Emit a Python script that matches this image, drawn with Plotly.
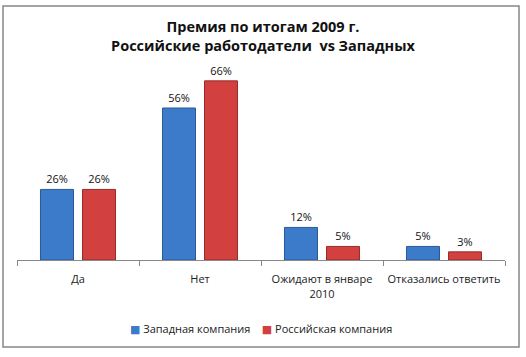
import plotly.graph_objects as go

categories = ["Да", "Нет", "Ожидают в январе<br>2010", "Отказались ответить"]
western = [26, 56, 12, 5]
russian = [26, 66, 5, 3]
series_names = ["Западная компания", "Российская компания"]
series_colors = ["#3C7BC9", "#D2413F"]
edge_colors = ["#2A5A96", "#962C2A"]

W, H = 526, 357
L, R, T, B = 17, 21, 70, 97
pw = W - L - R
ph = H - T - B

def px_x(p):
    return (p - L) / pw

def px_y(p):
    return (H - B - p) / ph

font_family = "Open Sans, Lato, DejaVu Sans, sans-serif"

fig = go.Figure()
for name, vals, col, edge in zip(series_names, [western, russian], series_colors, edge_colors):
    fig.add_trace(go.Bar(
        x=categories, y=vals, name=name,
        marker=dict(color=col, line=dict(color=edge, width=1)),
        text=[f"{v}%" for v in vals], textposition="outside",
        textfont=dict(size=11, color="#111111"), cliponaxis=False,
    ))

legend_text = "    ".join(
    f"<span style='color:{c}'>■</span> {n}" for n, c in zip(series_names, series_colors)
)

fig.update_layout(
    width=W, height=H,
    margin=dict(l=L, r=R, t=T, b=B, autoexpand=False),
    paper_bgcolor="white", plot_bgcolor="white",
    font=dict(family=font_family, size=11, color="#222222"),
    barmode="group", bargap=0.311, bargroupgap=0.214,
    title=dict(
        text="<b>Премия по итогам 2009 г.<br>Российские работодатели  vs Западных</b>",
        x=0.5, xanchor="center", y=1 - 32 / H, yanchor="middle",
        font=dict(size=14.5, color="#111111", family=font_family),
    ),
    showlegend=False,
    annotations=[dict(
        text=legend_text, xref="paper", yref="paper",
        x=px_x(261), y=px_y(328), xanchor="center", yanchor="middle",
        showarrow=False, font=dict(size=11, color="#222222"),
    )],
    xaxis=dict(
        showline=True, linecolor="#888888", linewidth=1,
        ticks="outside", tickson="boundaries", ticklen=5, tickcolor="#888888",
        ticklabelstandoff=9, tickangle=0,
        showgrid=False, tickfont=dict(size=11, color="#222222"), automargin=False,
    ),
    yaxis=dict(range=[0, 70], visible=False, showgrid=False, zeroline=False, automargin=False),
    shapes=[dict(
        type="rect", xref="paper", yref="paper",
        x0=px_x(3), x1=px_x(519), y0=px_y(347), y1=px_y(6),
        line=dict(color="#868686", width=1.5), fillcolor="rgba(0,0,0,0)", layer="below",
    )],
)

fig.write_html(
    "out.html",
    config={"displayModeBar": False},
    post_script="document.body.style.margin='0';",
)
